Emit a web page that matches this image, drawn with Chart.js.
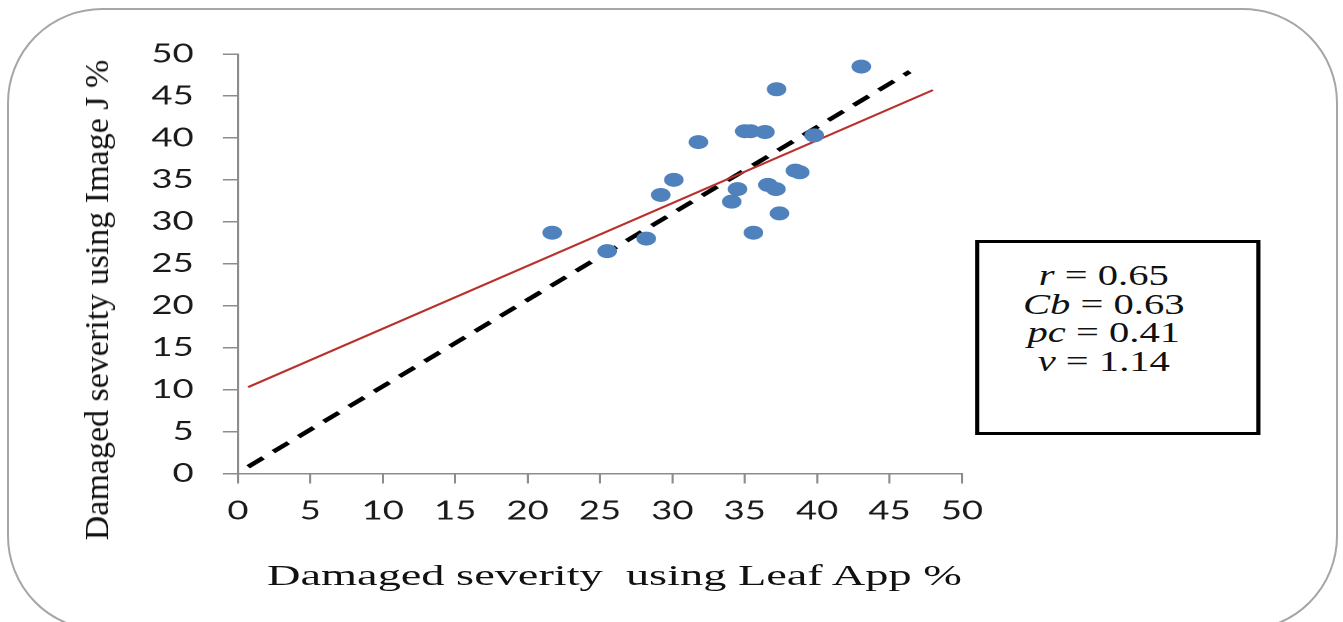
<!DOCTYPE html>
<html>
<head>
<meta charset="utf-8">
<script src="https://cdn.jsdelivr.net/npm/chart.js@4.4.1/dist/chart.umd.min.js"></script>
<style>
  html, body { margin: 0; padding: 0; background: #fff; }
  body { width: 1343px; height: 622px; position: relative; overflow: hidden; }
  #frame {
    position: absolute; left: 7px; top: 8px; width: 1331px; height: 623px;
    border: 2px solid #a6a6a6; border-radius: 95px; box-sizing: border-box;
  }
  #stretch {
    position: absolute; left: 0; top: 0; width: 960px; height: 622px;
    transform: scaleX(1.39896); transform-origin: 0 0;
  }
  #statBox {
    position: absolute; left: 697px; top: 240px; width: 204px; height: 195px;
    border: 3px solid #000; box-sizing: border-box; background: #fff;
    font: 29px "Liberation Serif", "Times New Roman", serif; color: #111;
    line-height: 28.5px; text-align: center; padding: 18px 20px 0 0;
  }
  #yTitle {
    position: absolute; left: 97px; top: 300px; white-space: nowrap;
    transform: translate(-50%, -50%) rotate(-90deg);
    font: 34px "Liberation Serif", "Times New Roman", serif; color: #111; line-height: 34px;
  }
  #xTitle {
    position: absolute; left: 267px; top: 560px; white-space: pre;
    transform-origin: 0 0;
    font: 30px "Liberation Serif", "Times New Roman", serif; color: #111; line-height: 30px;
  }
</style>
</head>
<body>
<div id="frame"></div>
<div id="stretch">
  <canvas id="chart_1" width="960" height="622"></canvas>
  <div id="statBox">
    <div><i>r</i> = 0.65</div>
    <div><i>Cb</i> = 0.63</div>
    <div><i>pc</i> = 0.41</div>
    <div><i>v</i> = 1.14</div>
  </div>
</div>
<div id="yTitle">Damaged severity using Image J %</div>
<div id="xTitle"><span id="xTitleText">Damaged severity  using Leaf App %</span></div>

<script>
// readings
const leafApp = [21.7, 25.5, 28.2, 29.2, 30.1, 31.8, 34.1, 34.5, 35.0, 35.4, 36.4, 35.6, 36.6, 37.15, 37.4, 38.5, 38.8, 37.2, 39.8, 43.05];
const imageJ  = [28.7, 26.5, 28.0, 33.2, 35.0, 39.5, 32.4, 33.9, 40.8, 40.8, 40.7, 28.7, 34.4, 33.9, 31.0, 36.1, 35.9, 45.8, 40.3, 48.5];

// fitted line (red) and 1:1 line (dashed), end points as read
const fitX = [0.7, 48.0];
const fitY = [10.3, 45.7];
const oneX = [0.7, 46.4];
const oneY = [0.8, 47.9];

const tickMin = 0;
const tickMax = 50;
const tickStep = 5;

function toPoints(xs, ys){
    return xs.map((x, i) => ({ x: x, y: ys[i] }));
}

// stretch the x title to the width it has in the picture
const xt = document.getElementById('xTitleText');
document.getElementById('xTitle').style.transform = 'scaleX(' + (695 / xt.offsetWidth) + ')';

const axisGray = '#8c8c8c';
const tickFont = { family: 'Lato', size: 26 };

let chart = new Chart('chart_1', {
    type: 'scatter',
    data: {
        datasets: [
            {
                label: 'data',
                data: toPoints(leafApp, imageJ),
                backgroundColor: '#4f81bd',
                borderColor: '#4f81bd',
                pointRadius: 7,
                pointHoverRadius: 7,
                borderWidth: 0
            },
            {
                label: 'fit',
                type: 'line',
                data: toPoints(fitX, fitY),
                borderColor: '#b8302c',
                borderWidth: 2,
                pointRadius: 0,
                fill: false
            },
            {
                label: '1:1',
                type: 'line',
                data: toPoints(oneX, oneY),
                borderColor: '#000',
                borderWidth: 4,
                borderDash: [14, 9.5],
                pointRadius: 0,
                fill: false
            }
        ]
    },
    options: {
        responsive: false,
        animation: false,
        devicePixelRatio: 2,
        layout: { padding: { left: 0, right: 272.4, top: 54, bottom: 88.5 } },
        plugins: {
            legend: { display: false },
            tooltip: { enabled: false },
            title: { display: false }
        },
        scales: {
            x: {
                type: 'linear',
                min: tickMin,
                max: tickMax,
                afterFit: (s) => { s.height = 60; },
                border: { color: axisGray, width: 1.5 },
                grid: { drawOnChartArea: false, drawTicks: true, tickLength: 10, color: axisGray, lineWidth: 1.5 },
                ticks: { stepSize: tickStep, font: tickFont, color: '#1a1a1a', padding: 12, maxRotation: 0 }
            },
            y: {
                type: 'linear',
                min: tickMin,
                max: tickMax,
                afterFit: (s) => { s.width = 170.1; },
                border: { color: axisGray, width: 1.5 },
                grid: { drawOnChartArea: false, drawTicks: true, tickLength: 10.7, color: axisGray, lineWidth: 1.5 },
                ticks: { stepSize: tickStep, font: tickFont, color: '#1a1a1a', padding: 21 }
            }
        }
    }
});
</script>
</body>
</html>
